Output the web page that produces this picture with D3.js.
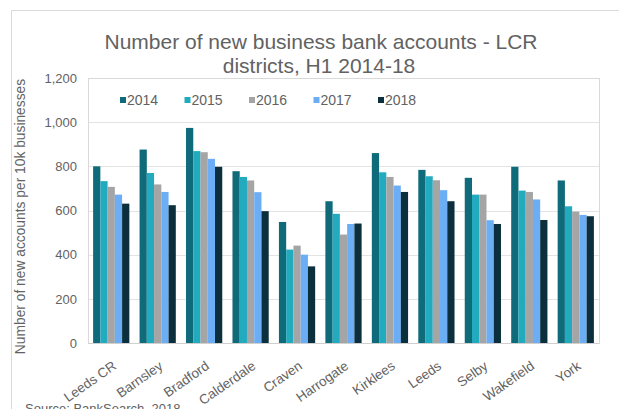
<!DOCTYPE html>
<html>
<head>
<meta charset="utf-8">
<script src="https://cdn.jsdelivr.net/npm/d3@7"></script>
<style>
  html, body { margin: 0; padding: 0; background: #fff; }
  svg { display: block; font-family: "Liberation Sans", Arial, sans-serif; }
</style>
</head>
<body>
<svg id="chart" width="619" height="409"></svg>
<script>
// New business bank accounts per 10k businesses, H1 of each year
const districts = ["Leeds CR", "Barnsley", "Bradford", "Calderdale", "Craven", "Harrogate",
                   "Kirklees", "Leeds", "Selby", "Wakefield", "York"];
const years = ["2014", "2015", "2016", "2017", "2018"];
const values2014 = [800, 876, 974, 778, 548, 642, 860, 784, 748, 798, 736];
const values2015 = [733, 770, 869, 752, 423, 585, 773, 755, 672, 690, 619];
const values2016 = [707, 718, 864, 736, 441, 491, 752, 737, 672, 684, 595];
const values2017 = [672, 684, 834, 683, 400, 539, 713, 692, 556, 650, 580];
const values2018 = [631, 624, 798, 597, 347, 541, 684, 642, 539, 557, 574];
const yTicks = [0, 200, 400, 600, 800, 1000, 1200];
const seriesColors = ["#0f6b7a", "#22aabf", "#a5a5a5", "#6baef5", "#0b2f3d"];

const series = [values2014, values2015, values2016, values2017, values2018];
const textColor = "#626262";

const svg = d3.select("#chart");
const plot = { left: 88, right: 599, top: 78, bottom: 343 };

// outer chart frame (left and top edges)
svg.append("path")
  .attr("d", "M11.5,409 V10.5 H619")
  .attr("fill", "none").attr("stroke", "#d9d9d9").attr("stroke-width", 1);

// title
const title = svg.append("text")
  .attr("text-anchor", "middle")
  .attr("fill", textColor)
  .attr("font-size", 21);
title.append("tspan").attr("x", 321).attr("y", 49).text("Number of new business bank accounts - LCR");
title.append("tspan").attr("x", 319).attr("y", 73).text("districts, H1 2014-18");

const x0 = d3.scaleBand().domain(districts).range([plot.left, plot.right]).paddingInner(0.22).paddingOuter(0.11);
const x1 = d3.scaleBand().domain(years).range([0, x0.bandwidth()]);
const y = d3.scaleLinear().domain([0, 1200]).range([plot.bottom, plot.top]);

// gridlines
svg.append("g").selectAll("line").data(yTicks.filter(d => d > 0)).join("line")
  .attr("x1", plot.left).attr("x2", plot.right)
  .attr("y1", d => Math.round(y(d)) + 0.5).attr("y2", d => Math.round(y(d)) + 0.5)
  .attr("stroke", "#e3e3e3");

// plot-area border
svg.append("rect")
  .attr("x", plot.left + 0.5).attr("y", plot.top + 0.5)
  .attr("width", plot.right - plot.left).attr("height", plot.bottom - plot.top)
  .attr("fill", "none").attr("stroke", "#d9d9d9");

// bars
const groups = svg.append("g").selectAll("g").data(districts).join("g")
  .attr("transform", d => `translate(${x0(d)},0)`);
groups.selectAll("rect")
  .data((d, i) => years.map((yr, k) => ({ yr, k, v: series[k][i] })))
  .join("rect")
  .attr("x", d => x1(d.yr))
  .attr("width", x1.bandwidth())
  .attr("y", d => y(d.v))
  .attr("height", d => y(0) - y(d.v))
  .attr("fill", d => seriesColors[d.k]);

// y axis
const yAxis = svg.append("g")
  .attr("transform", `translate(${plot.left},0)`)
  .call(d3.axisLeft(y).tickValues(yTicks).tickSize(0).tickPadding(11).tickFormat(d3.format(",")));
yAxis.select(".domain").remove();
yAxis.selectAll("text").attr("fill", textColor).attr("font-size", 13)
  .attr("font-family", "Liberation Sans, Arial, sans-serif");

// x axis line
svg.append("line")
  .attr("x1", plot.left).attr("x2", plot.right)
  .attr("y1", plot.bottom + 0.5).attr("y2", plot.bottom + 0.5)
  .attr("stroke", "#d0d0d0");

// x axis labels
const xAxis = svg.append("g")
  .attr("transform", `translate(0,${plot.bottom})`)
  .call(d3.axisBottom(x0).tickSize(0).tickPadding(0));
xAxis.select(".domain").remove();
xAxis.selectAll("text")
  .attr("fill", textColor).attr("font-size", 13.5)
  .attr("font-family", "Liberation Sans, Arial, sans-serif")
  .attr("text-anchor", "end")
  .attr("dy", 0).attr("y", 0)
  .attr("transform", "translate(6,25) rotate(-35)");

// y axis title
svg.append("text")
  .attr("transform", `translate(25,${(plot.top + plot.bottom) / 2 + 6}) rotate(-90)`)
  .attr("text-anchor", "middle")
  .attr("fill", textColor).attr("font-size", 13.8)
  .text("Number of new accounts per 10k businesses");

// legend
const legend = svg.append("g").selectAll("g").data(years).join("g")
  .attr("transform", (d, i) => `translate(${120 + i * 64.5},100)`);
legend.append("rect")
  .attr("x", 0).attr("y", -3).attr("width", 6).attr("height", 6)
  .attr("fill", (d, i) => seriesColors[i]);
legend.append("text")
  .attr("x", 7).attr("y", 5)
  .attr("fill", textColor).attr("font-size", 14)
  .text(d => d);

// source note
svg.append("text")
  .attr("x", 25).attr("y", 413)
  .attr("fill", textColor).attr("font-size", 13)
  .text("Source: BankSearch, 2018");
</script>
</body>
</html>
